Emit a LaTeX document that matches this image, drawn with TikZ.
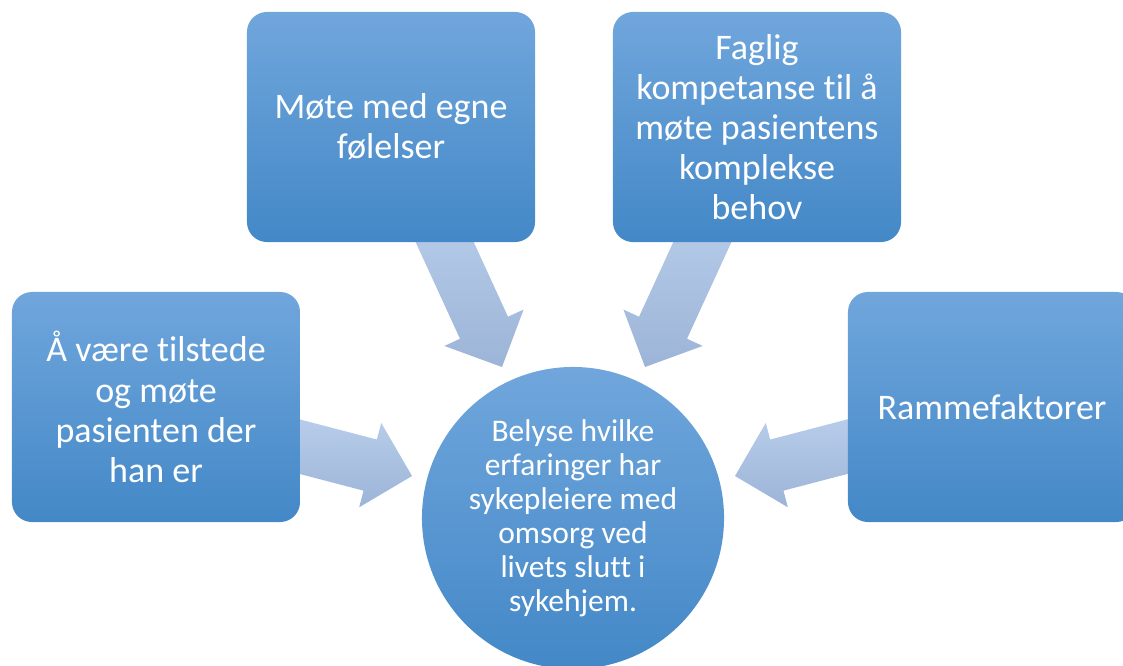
\documentclass[tikz,border=0pt]{standalone}
\usepackage{fontspec}
\setmainfont{Carlito}[Ligatures=NoCommon]
\usetikzlibrary{positioning, calc, backgrounds}
\definecolor{boxtop}{RGB}{112,166,220}
\definecolor{boxbottom}{RGB}{67,136,199}
\definecolor{arrowtop}{RGB}{185,206,235}
\definecolor{arrowbottom}{RGB}{156,180,215}
\tikzstyle{block} = [rectangle, rounded corners=0.5cm,
    top color=boxtop, bottom color=boxbottom, text=white, align=center,
    minimum width=7.2cm, minimum height=5.75cm,
    font=\fontsize{25.6}{28.5}\selectfont]
\tikzstyle{goal} = [circle, top color=boxtop, bottom color=boxbottom,
    text=white, align=center, minimum size=7.55cm,
    font=\fontsize{22.4}{24.2}\selectfont]
\tikzstyle{fatarrow} = [top color=arrowtop, bottom color=arrowbottom]
% block arrow from #1 (hidden under a box) to the tip #2
\newcommand{\blockarrow}[2]{%
    \coordinate (#2-base) at ($(#2)!1.08cm!(#1)$);
    \shade[fatarrow] ($(#1)!0.66cm!90:(#2)$) -- ($(#2-base)!0.66cm!90:(#2)$)
        -- ($(#2-base)!1.09cm!90:(#2)$) -- (#2)
        -- ($(#2-base)!1.09cm!-90:(#2)$) -- ($(#2-base)!0.66cm!-90:(#2)$)
        -- ($(#1)!0.66cm!-90:(#2)$) -- cycle;
}

\begin{document}
\begin{tikzpicture}[x=0.025cm, y=-0.025cm]
    \useasboundingbox (0,0) rectangle (1123,665);
    \clip (0,0) rectangle (1123,665);

    \node[goal] (goal) at (573,518)
        {Belyse hvilke\\erfaringer har\\sykepleiere med\\omsorg ved\\livets slutt i\\sykehjem.};

    \node[block] (left) at (156,407)
        {Å være tilstede\\og møte\\pasienten der\\han er};
    \node[block] (topleft) at (391,127) {Møte med egne\\følelser};
    \node[block] (topright) at (757,127)
        {Faglig\\kompetanse til å\\møte pasientens\\komplekse\\behov};
    \node[block] (right) at (992,407) {Rammefaktorer};

    % arrow tails sit under the boxes
    \coordinate (left-tail) at ($(left.east)+(-30,32)$);
    \coordinate (left-tip) at (412,476);
    \coordinate (topleft-tail) at ($(topleft.south)+(40,-30)$);
    \coordinate (topleft-tip) at (502,367);
    \coordinate (topright-tail) at ($(topright.south)+(-41,-30)$);
    \coordinate (topright-tip) at (645,367);
    \coordinate (right-tail) at ($(right.west)+(29,32)$);
    \coordinate (right-tip) at (735,476);

    \begin{scope}[on background layer]
        \blockarrow{left-tail}{left-tip}
        \blockarrow{topleft-tail}{topleft-tip}
        \blockarrow{topright-tail}{topright-tip}
        \blockarrow{right-tail}{right-tip}
    \end{scope}
\end{tikzpicture}
\end{document}
